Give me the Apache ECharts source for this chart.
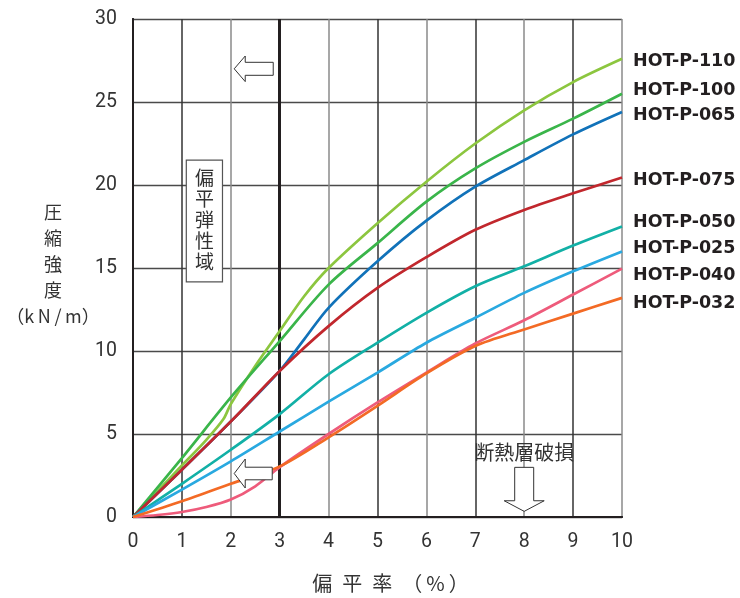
<!DOCTYPE html>
<html><head><meta charset="utf-8">
<script src="https://cdn.jsdelivr.net/npm/echarts@6/dist/echarts.min.js"></script>
<style>html,body{margin:0;padding:0;background:#fff}#c{width:740px;height:598px}</style>
</head><body><div id="c"></div>
<script>
// ---- data ----
const seriesNames = ['HOT-P-110','HOT-P-100','HOT-P-065','HOT-P-075','HOT-P-050','HOT-P-025','HOT-P-040','HOT-P-032'];
const hotP110 = [[0,0],[0.5,1.55],[1,3.1],[1.5,4.65],[1.85,5.9],[2,6.8],[2.5,9.1],[3,11.2],[3.5,13.3],[4,15.0],[5,17.7],[6,20.2],[7,22.5],[8,24.5],[9,26.2],[10,27.6]];
const hotP100 = [[0,0],[1,3.55],[2,7.2],[3,10.6],[4,14.0],[5,16.5],[6,19.0],[7,21.0],[8,22.6],[9,24.0],[10,25.5]];
const hotP065 = [[0,0],[1,2.85],[2,5.75],[3,8.8],[3.5,10.7],[4,12.6],[5,15.4],[6,17.85],[7,19.9],[8,21.5],[9,23.05],[10,24.4]];
const hotP075 = [[0,0],[1,2.85],[2,5.75],[3,8.8],[4,11.5],[5,13.8],[6,15.65],[7,17.3],[8,18.5],[9,19.5],[10,20.45]];
const hotP050 = [[0,0],[1,2.0],[2,4.05],[3,6.2],[4,8.6],[5,10.5],[6,12.3],[7,13.9],[8,15.1],[9,16.35],[10,17.5]];
const hotP025 = [[0,0],[1,1.65],[2,3.35],[3,5.15],[4,6.95],[5,8.7],[6,10.5],[7,12.0],[8,13.5],[9,14.8],[10,16.0]];
const hotP040 = [[0,0],[0.5,0.12],[1,0.3],[1.5,0.6],[2,1.05],[2.5,1.85],[3,3.0],[4,5.0],[5,6.9],[6,8.7],[7,10.45],[8,11.85],[9,13.4],[10,14.96]];
const hotP032 = [[0,0],[1,0.95],[2,2.0],[3,3.05],[4,4.8],[5,6.7],[6,8.65],[7,10.3],[8,11.3],[9,12.25],[10,13.2]];
const seriesData = [hotP110,hotP100,hotP065,hotP075,hotP050,hotP025,hotP040,hotP032];
const xAxisTitle = '偏\u2002平\u2002率\u2002（\u2009%\u2009）';
const yAxisTitle = '圧\n縮\n強\n度\n（k\u2009N\u2009/\u2009m）';
const elasticLabel = '偏\n平\n弾\n性\n域';
const breakLabel = '断熱層破損';

// ---- styling ----
const colors = ['#8cc63f','#3ab54a','#1172b9','#c1272d','#12b0a6','#29a9e0','#ee5b7b','#f36a25'];
const labelOffsets = [2.5,-3,3,3.3,-4,-2.5,6.5,5.5];
const CJK = '"Noto Sans CJK JP", "Noto Sans", sans-serif';
const NUM = 'Roboto, "Liberation Sans", sans-serif';

const chart = echarts.init(document.getElementById('c'), null, {renderer:'canvas'});
const series = seriesNames.map((n,i)=>({
  name:n, type:'line', data:seriesData[i], smooth:0.3,
  showSymbol:false, symbol:'none', z:5,
  lineStyle:{color:colors[i], width:2.7},
  itemStyle:{color:colors[i]},
  endLabel:{show:true, formatter:n, distance:11, offset:[0,labelOffsets[i]],
    color:'#231f20', fontWeight:'bold', fontSize:17.5, fontFamily:'"DejaVu Sans", sans-serif'}
}));
series.push({type:'line', data:[], z:3, silent:true,
  markLine:{silent:true, symbol:'none', animation:false, label:{show:false},
    lineStyle:{color:'#231f20', width:3, type:'solid'}, data:[{xAxis:3}]}});

chart.setOption({
  animation:false,
  backgroundColor:'#fff',
  grid:{left:133, top:19, width:489, height:504, containLabel:false},
  xAxis:[{type:'value', min:0, max:10, interval:1,
    name:xAxisTitle, nameLocation:'middle', nameGap:56,
    nameTextStyle:{fontFamily:CJK, fontSize:20, color:'#333', padding:[0,0,0,26]},
    axisLine:{show:true, onZero:false, lineStyle:{color:'#231f20', width:2}},
    axisTick:{show:false},
    axisLabel:{color:'#333', fontSize:19.5, fontFamily:NUM, margin:15},
    splitLine:{show:true, lineStyle:{color:['#8a8a8a','#333'], width:1.5}}},
   {type:'value', position:'top', min:0, max:10, axisLine:{show:true, lineStyle:{color:'#231f20', width:2}},
    axisTick:{show:false}, axisLabel:{show:false}, splitLine:{show:false}}],
  yAxis:[{type:'value', min:0, max:30, interval:5,
    axisLine:{show:true, onZero:false, lineStyle:{color:'#231f20', width:2}},
    axisTick:{show:false},
    axisLabel:{color:'#333', fontSize:19.5, fontFamily:NUM, margin:16},
    splitLine:{show:true, lineStyle:{color:'#4a4a4a', width:1.3}}},
   {type:'value', position:'right', min:0, max:30, axisLine:{show:true, lineStyle:{color:'#231f20', width:2}},
    axisTick:{show:false}, axisLabel:{show:false}, splitLine:{show:false}}],
  series:series
});

// ---- annotations anchored in data coordinates ----
const P = (x,y)=>chart.convertToPixel({xAxisIndex:0, yAxisIndex:0},[x,y]);
function leftArrow(tip, len, headLen, headHalf, shaftHalf){
  const [x,y]=tip;
  return [[x,y],[x+headLen,y-headHalf],[x+headLen,y-shaftHalf],[x+len,y-shaftHalf],[x+len,y+shaftHalf],[x+headLen,y+shaftHalf],[x+headLen,y+headHalf]];
}
function downArrow(tip, len, headLen, headHalf, shaftHalf){
  const [x,y]=tip;
  return [[x,y],[x-headHalf,y-headLen],[x-shaftHalf,y-headLen],[x-shaftHalf,y-len],[x+shaftHalf,y-len],[x+shaftHalf,y-headLen],[x+headHalf,y-headLen]];
}
const boxTL = P(1.09,21.5), boxBR = P(1.83,14.17), boxC = P(1.46,17.9);
const arrowTop = P(2.07,27.0), arrowLow = P(2.07,2.62), arrowDown = P(8,0.34), breakC = P(8,3.9);
const yNameC = P(0,15.25);
const arrowStyle = {fill:'#fff', stroke:'#333', lineWidth:1};
chart.setOption({graphic:[
  {type:'rect', z:20, shape:{x:boxTL[0], y:boxTL[1], width:boxBR[0]-boxTL[0], height:boxBR[1]-boxTL[1]},
    style:{fill:'#fff', stroke:'#555', lineWidth:1.2}},
  {type:'text', z:21, x:boxC[0], y:boxC[1], style:{text:elasticLabel, font:'19px '+CJK, fill:'#333', align:'center', verticalAlign:'middle', lineHeight:21}},
  {type:'polygon', z:20, shape:{points:leftArrow(arrowTop,39,11,12.8,6.5)}, style:arrowStyle},
  {type:'polygon', z:20, shape:{points:leftArrow(arrowLow,38,11,14.5,6.3)}, style:arrowStyle},
  {type:'polygon', z:20, shape:{points:downArrow(arrowDown,44,10.6,20,9.5)}, style:arrowStyle},
  {type:'text', z:21, x:breakC[0], y:breakC[1], style:{text:breakLabel, font:'20px '+CJK, fill:'#333', align:'center', verticalAlign:'middle'}},
  {type:'text', z:21, x:53, y:yNameC[1], style:{text:yAxisTitle, font:'18px '+CJK, fill:'#333', align:'center', verticalAlign:'middle', lineHeight:26}}
]});
</script></body></html>
